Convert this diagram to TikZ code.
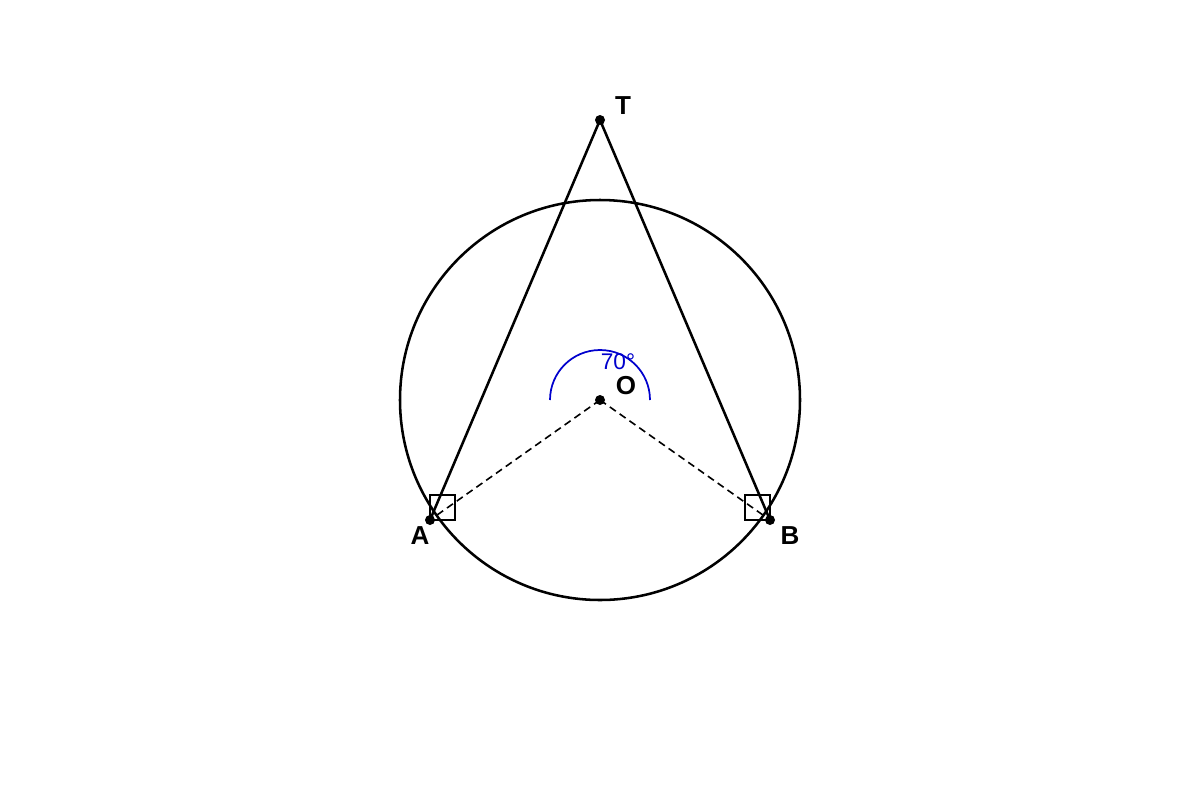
\documentclass[tikz,border=0pt]{standalone}
\usepackage{fontspec}
\setmainfont{Liberation Sans}
\definecolor{arcblue}{HTML}{0000CD}
\begin{document}
\begin{tikzpicture}[x=0.75pt,y=-0.75pt,
  pt/.style={circle,fill=black,inner sep=0pt,minimum size=7.5pt},
  lbl/.style={font=\bfseries\fontsize{19.5}{22}\selectfont,inner sep=0pt},
  thick line/.style={line width=1.9pt},
  dash line/.style={line width=1.2pt,dash pattern=on 5.5pt off 3.5pt},
  sq/.style={line width=1.1pt}]
\useasboundingbox (0,0) rectangle (1200,800);
\node[pt] (O) at (600,400) {};
\node[pt] (T) at (600,120) {};
\node[pt] (A) at (430,520) {};
\node[pt] (B) at (770,520) {};
\draw[thick line] (O.center) circle[radius=200];
\draw[thick line] (A.center) -- (T.center) -- (B.center);
\draw[dash line] (O.center) -- (A.center);
\draw[dash line] (O.center) -- (B.center);
\draw[sq] (430,495) rectangle (455,520);
\draw[sq] (745,495) rectangle (770,520);
\draw[arcblue,line width=1.3pt] (550,400) arc[start angle=180,end angle=360,radius=50];
\node[text=arcblue,font=\fontsize{17}{19}\selectfont,inner sep=0pt] (ang) at (618,362) {70°};
\node[lbl] (lT) at (623,106) {T};
\node[lbl] (lO) at (626,386) {O};
\node[lbl] (lA) at (420,536) {A};
\node[lbl] (lB) at (790,536) {B};
\end{tikzpicture}
\end{document}
